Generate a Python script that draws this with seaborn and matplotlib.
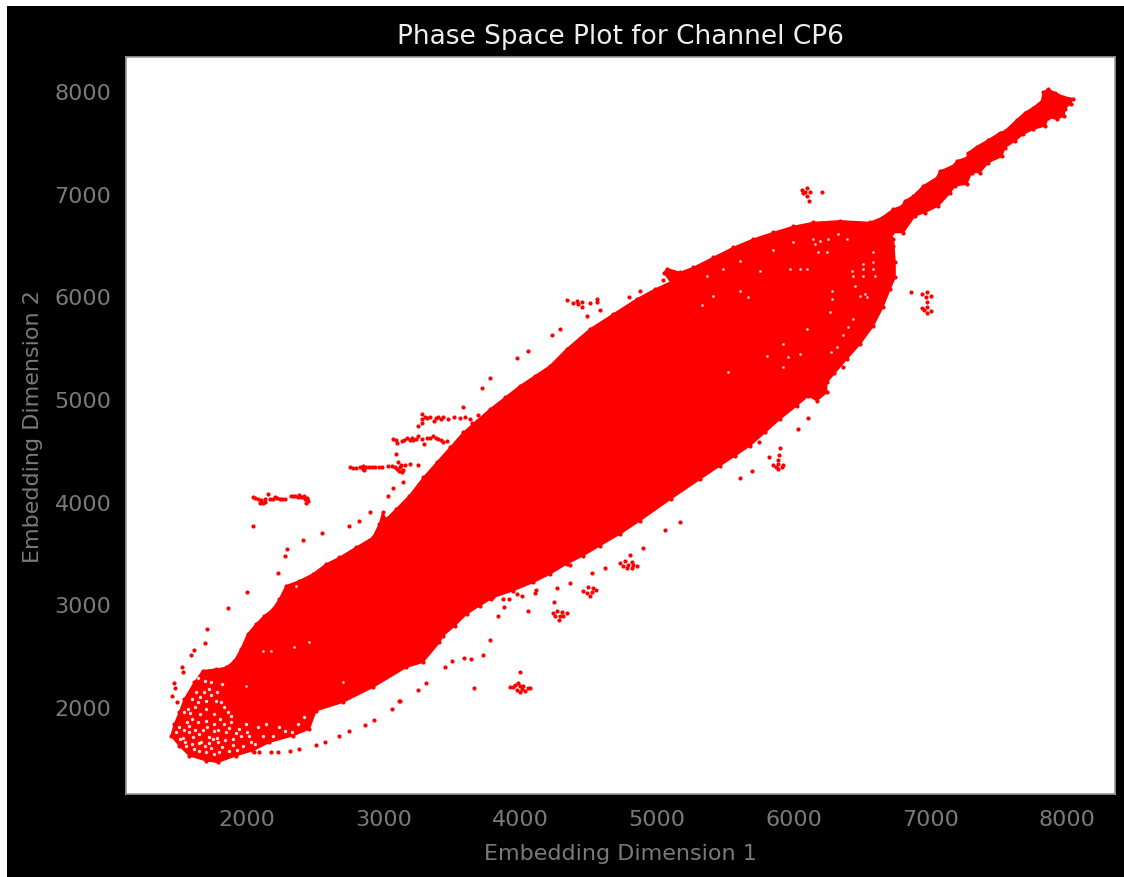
import matplotlib
matplotlib.use("Agg")
import matplotlib.pyplot as plt
from matplotlib.patches import Rectangle
import seaborn as sns

TITLE = "Phase Space Plot for Channel CP6"
XLABEL = "Embedding Dimension 1"
YLABEL = "Embedding Dimension 2"
tick_values = [2000, 3000, 4000, 5000, 6000, 7000, 8000]

# Outline of the solid mass of overlapping points
body_x = [1444, 1469, 1505, 1542, 1615, 1676, 1774, 1847, 1908, 1956, 2005, 2066, 2127, 2188, 2237, 2286, 2383, 2481,
          2578, 2676, 2798, 2920, 2969, 2993, 3017, 3091, 3188, 3291, 3388, 3486, 3583, 3681, 3778, 3888, 3998, 4108,
          4217, 4338, 4509, 4680, 4851, 4985, 5100, 5050, 5075, 5168, 5265, 5412, 5558, 5704, 5851, 5997, 6143, 6338,
          6558, 6644, 6729, 6790, 6814, 6875, 6900, 6948, 7046, 7070, 7119, 7180, 7192, 7265, 7278, 7339, 7424, 7509,
          7546, 7631, 7692, 7753, 7814, 7826, 7863, 7912, 7973, 8041, 8026, 7985, 7978, 7924, 7863, 7839, 7753, 7680,
          7619, 7546, 7522, 7424, 7363, 7302, 7265, 7180, 7143, 7058, 6961, 6887, 6802, 6717, 6729, 6730, 6742, 6742,
          6705, 6652, 6583, 6486, 6388, 6242, 6242, 6169, 6108, 6022, 5900, 5791, 5681, 5571, 5461, 5315, 5100, 4875,
          4729, 4582, 4460, 4339, 4217, 4095, 3948, 3802, 3704, 3607, 3521, 3436, 3408, 3286, 3164, 2920, 2700, 2505,
          2456, 2335, 2164, 2042, 1920, 1786, 1700, 1578, 1505]
body_y = [1721, 1834, 1948, 2078, 2240, 2354, 2370, 2386, 2451, 2565, 2711, 2808, 2889, 2954, 3051, 3181, 3230, 3295,
          3392, 3457, 3555, 3652, 3782, 3895, 3830, 3928, 4058, 4236, 4382, 4528, 4674, 4788, 4901, 5015, 5129, 5226,
          5323, 5486, 5681, 5827, 5973, 6070, 6140, 6230, 6270, 6233, 6281, 6379, 6476, 6557, 6622, 6681, 6720, 6736,
          6720, 6767, 6849, 6881, 6930, 6979, 7011, 7076, 7157, 7222, 7245, 7287, 7319, 7352, 7400, 7459, 7524, 7595,
          7611, 7719, 7790, 7839, 7904, 7991, 8017, 7985, 7946, 7926, 7878, 7829, 7758, 7725, 7741, 7660, 7628, 7579,
          7514, 7449, 7362, 7303, 7206, 7206, 7092, 7076, 7005, 6881, 6816, 6784, 6621, 6621, 6492, 6557, 6330, 6184,
          6070, 5892, 5713, 5535, 5389, 5161, 5064, 4983, 5032, 4934, 4804, 4675, 4545, 4447, 4350, 4220, 4025, 3815,
          3685, 3571, 3474, 3393, 3295, 3214, 3133, 3068, 2987, 2906, 2792, 2695, 2629, 2435, 2386, 2191, 2045, 1964,
          1785, 1720, 1656, 1575, 1526, 1461, 1477, 1526, 1623]

# Loose points above and to the left of the mass
upper_x = [3144, 3066, 3030, 2903, 2817, 2749, 2549, 2408, 2293, 2281, 2225, 2047, 2000, 1859, 1708, 1695, 1615, 1591,
           1522, 1534, 1464, 1476, 1452, 1488, 3088, 3249, 3252, 3298, 3693, 3578, 3717, 3778, 3974, 4059, 4338, 4509,
           4558, 4563, 4582, 4490, 4290, 4231, 4795, 4875, 5041, 6204, 6114]
upper_y = [4188, 4129, 4051, 3895, 3814, 3766, 3691, 3629, 3538, 3473, 3301, 3766, 3116, 2961, 2759, 2620, 2558, 2509,
           2386, 2337, 2233, 2182, 2110, 2045, 4466, 4359, 4733, 4560, 4843, 4918, 5103, 5200, 5398, 5463, 5963, 5934,
           5973, 5941, 5869, 5807, 5681, 5622, 5992, 6054, 6161, 7018, 6924]

# Loose points below and to the right of the mass
lower_x = [2091, 2054, 2176, 2225, 2315, 2383, 2505, 2574, 2676, 2749, 2866, 2932, 3061, 3110, 3249, 3310, 3449, 3498,
           3591, 3639, 3659, 3119, 3729, 3775, 3834, 3880, 3870, 3917, 3785, 3975, 4012, 4058, 4107, 4114, 3999, 4243,
           4268, 4360, 4360, 4524, 4617, 4897, 4851, 5060, 5165, 6359, 6298, 6103, 6032, 5749, 5693, 5822, 5900, 5891,
           5608, 6859]
lower_y = [1565, 1565, 1565, 1565, 1575, 1591, 1630, 1656, 1721, 1763, 1824, 1873, 1980, 2061, 2169, 2230, 2386, 2448,
           2477, 2464, 2182, 2055, 2510, 2649, 2883, 2977, 3052, 3052, 3052, 3101, 3084, 2932, 3110, 3140, 2341, 3023,
           3162, 3211, 3380, 3302, 3351, 3549, 3377, 3724, 3799, 5307, 5249, 4811, 4704, 4580, 4298, 4438, 4519, 4454,
           4233, 6041]

# Horizontal streaks to the left of the mass
streak_x = [2047, 2060, 2083, 2096, 2100, 2120, 2130, 2135, 2152, 2169, 2190, 2205, 2220, 2242, 2260, 2278, 2320, 2335,
            2352, 2370, 2383, 2395, 2408, 2417, 2425, 2432, 2437, 2440, 2445,
            2754, 2775, 2800, 2825, 2850, 2850, 2855, 2870, 2890, 2915, 2940, 2965, 2985, 3035, 3060, 3085, 3096, 3108,
            3110, 3120, 3125, 3132, 3140, 3156, 3193,
            3071, 3090, 3096, 3132, 3150, 3169, 3190, 3205, 3217, 3235, 3254, 3278, 3315, 3340, 3364, 3380, 3400, 3420,
            3437, 3461,
            3278, 3278, 3280, 3303, 3320, 3339, 3369, 3385, 3400, 3420, 3437, 3474, 3515, 3559, 3595, 3632, 3644]
streak_y = [4041, 4035, 4031, 3986, 4020, 3992, 4000, 4030, 4074, 4031, 4030, 4041, 4035, 4025, 4030, 4025, 4057, 4055,
            4057, 4050, 4067, 4045, 4041, 4051, 4030, 3992, 4025, 4040, 4010,
            4340, 4325, 4330, 4335, 4345, 4315, 4305, 4340, 4335, 4340, 4340, 4340, 4340, 4349, 4345, 4340, 4317, 4388,
            4300, 4333, 4360, 4285, 4310, 4356, 4363,
            4609, 4600, 4570, 4593, 4600, 4616, 4600, 4625, 4600, 4615, 4642, 4609, 4625, 4620, 4642, 4625, 4609, 4600,
            4583, 4593,
            4853, 4771, 4810, 4820, 4815, 4820, 4788, 4815, 4820, 4810, 4820, 4810, 4827, 4817, 4820, 4804, 4771]

# Small round clumps away from the mass
clump_x = [3924, 3948, 3960, 3973, 3985, 3997, 3997, 4009, 4021, 4034, 4058, 4070,
           4241, 4253, 4265, 4285, 4290, 4302, 4314, 4339,
           4460, 4485, 4497, 4509, 4521, 4534, 4553,
           4729, 4753, 4765, 4778, 4790, 4802, 4814, 4814, 4826,
           6058, 6070, 6082, 6095, 6095, 6119,
           6937, 6974, 7003, 6969, 6937, 6974, 7003, 6978, 6974, 6954,
           4387, 4412, 4424, 4448, 4448,
           5852, 5871, 5888, 5888, 5888, 5912, 5925]
clump_y = [2198, 2192, 2218, 2169, 2234, 2143, 2208, 2175, 2208, 2159, 2185, 2182,
           2912, 2890, 2938, 2851, 2890, 2929, 2890, 2912,
           3133, 3110, 3166, 3084, 3117, 3159, 3140,
           3402, 3377, 3425, 3351, 3383, 3480, 3409, 3351, 3383,
           7038, 7005, 7018, 7051, 6979, 7012,
           6022, 6044, 6000, 5989, 5885, 5892, 5859, 5833, 5940, 5869,
           5931, 5957, 5924, 5892, 5941,
           4356, 4334, 4366, 4317, 4408, 4334, 4356]

# Gaps in the sparse lower-left end of the mass
tip_gap_x = [1603, 1639, 1700, 1761, 1578, 1664, 1725, 1786, 1847, 1895, 1956, 2017, 2078, 2139, 2237, 2371, 1566, 1639,
             1688, 1774, 1810, 1834, 1859, 1883, 1700, 1627, 1737, 1761, 1505, 1554, 1615, 1700, 1798, 1871, 1969, 2030,
             1530, 1560, 1600, 1540, 1650, 1690, 1740, 1820, 1900, 1940, 1990, 1760, 1660, 1620, 1700, 1740, 1690, 1640,
             1780, 1830, 1870, 1600, 1650, 1760, 2060, 2120, 2190, 2280, 2330, 2420, 1480, 1510, 1545, 1575, 1620, 1680,
             1710, 1790, 1800, 1720, 1750, 1840, 1930, 1580, 1540, 1600, 1660, 1720, 1780, 1820, 1880, 1920, 2000, 1650]
tip_gap_y = [1704, 1850, 1867, 1834, 1753, 1656, 1704, 1656, 1753, 1688, 1721, 1721, 1802, 1834, 1802, 1834, 1980, 2045,
             2143, 2061, 2045, 1996, 1948, 1915, 1980, 2143, 2240, 1769, 1802, 1623, 1591, 1558, 1558, 1574, 1623, 1656,
             1700, 1850, 1880, 1780, 1740, 1620, 1600, 1610, 1630, 1790, 1830, 1930, 1930, 2000, 2060, 2120, 2250, 2280,
             1700, 1830, 1800, 1640, 1570, 1540, 1640, 1720, 1720, 1770, 1760, 1900, 1760, 1690, 1660, 1820, 1780, 1780,
             1810, 1780, 1880, 1650, 1690, 1680, 1580, 1940, 1950, 2080, 2100, 2180, 2150, 2220, 1850, 1750, 1760, 1650]

# Small gaps visible inside the dense part of the mass
gap_x = [2115, 2176, 2347, 2456, 2359, 2700, 1993,
         6193, 6254, 6327, 6388, 6242, 6181, 6144, 5998, 5852, 5608, 5486, 5754, 5974, 6095, 6047, 6425, 6510, 6510,
         6583, 6583, 6595, 6522, 6534, 6437, 6449, 6486, 6278, 6278, 6266, 6437, 6400, 6364, 6315, 6271, 6095, 5961,
         5925, 5669, 5608, 5413, 5327, 6047, 5925, 5522, 5803, 5364, 6156, 6583, 6510]
gap_y = [2548, 2548, 2581, 2629, 3181, 2240, 2208,
         6541, 6557, 6606, 6557, 6427, 6434, 6557, 6525, 6453, 6346, 6265, 6249, 6265, 6265, 6265, 6249, 6265, 6200,
         6427, 6330, 6200, 6022, 5989, 6200, 6103, 6005, 6054, 5973, 5843, 5778, 5697, 5622, 5502, 5454, 5681, 5405,
         5535, 5989, 6054, 6005, 5915, 5437, 5307, 5259, 5421, 6200, 6509, 6265, 6314]

GREY = "#7a7a7a"
sns.set_theme(style="white")
plt.rcParams["font.family"] = ["DejaVu Sans"]

W, H = 1124, 878
fig = plt.figure(figsize=(W / 100, H / 100), dpi=100, facecolor="white")
fig.add_artist(Rectangle((7 / W, 0), 1 - 7 / W, 1 - 7 / H, transform=fig.transFigure, facecolor="black", edgecolor="none"))
ax = fig.add_axes([126 / W, 1 - 795 / H, (1115 - 126) / W, (795 - 58) / H], facecolor="white")
ax.set_zorder(2)

ax.fill(body_x, body_y, color="#ff0000", lw=1, zorder=1)
for xs, ys in [(body_x, body_y), (upper_x, upper_y), (lower_x, lower_y), (streak_x, streak_y), (clump_x, clump_y)]:
    sns.scatterplot(x=xs, y=ys, ax=ax, color="#ff0000", s=9, linewidth=0, zorder=2, legend=False)
sns.scatterplot(x=tip_gap_x, y=tip_gap_y, ax=ax, color="white", s=6, alpha=0.85, linewidth=0, zorder=3, legend=False)
sns.scatterplot(x=gap_x, y=gap_y, ax=ax, color="white", s=4, alpha=0.75, linewidth=0, zorder=3, legend=False)

ax.set_xlim(1115, 8351)
ax.set_ylim(1153, 8331)
ax.set_xticks(tick_values)
ax.set_yticks(tick_values)
ax.tick_params(length=0, labelsize=16, labelcolor=GREY, pad=10.5)
for s in ax.spines.values():
    s.set_color("#9a9a9a")
    s.set_linewidth(1.2)
ax.set_title(TITLE, color="#eeeeee", fontsize=19, pad=10)
ax.set_xlabel(XLABEL, color=GREY, fontsize=16, labelpad=10.5)
ax.set_ylabel(YLABEL, color=GREY, fontsize=16, labelpad=8)

fig.savefig("out.png", dpi=100, facecolor=fig.get_facecolor())
